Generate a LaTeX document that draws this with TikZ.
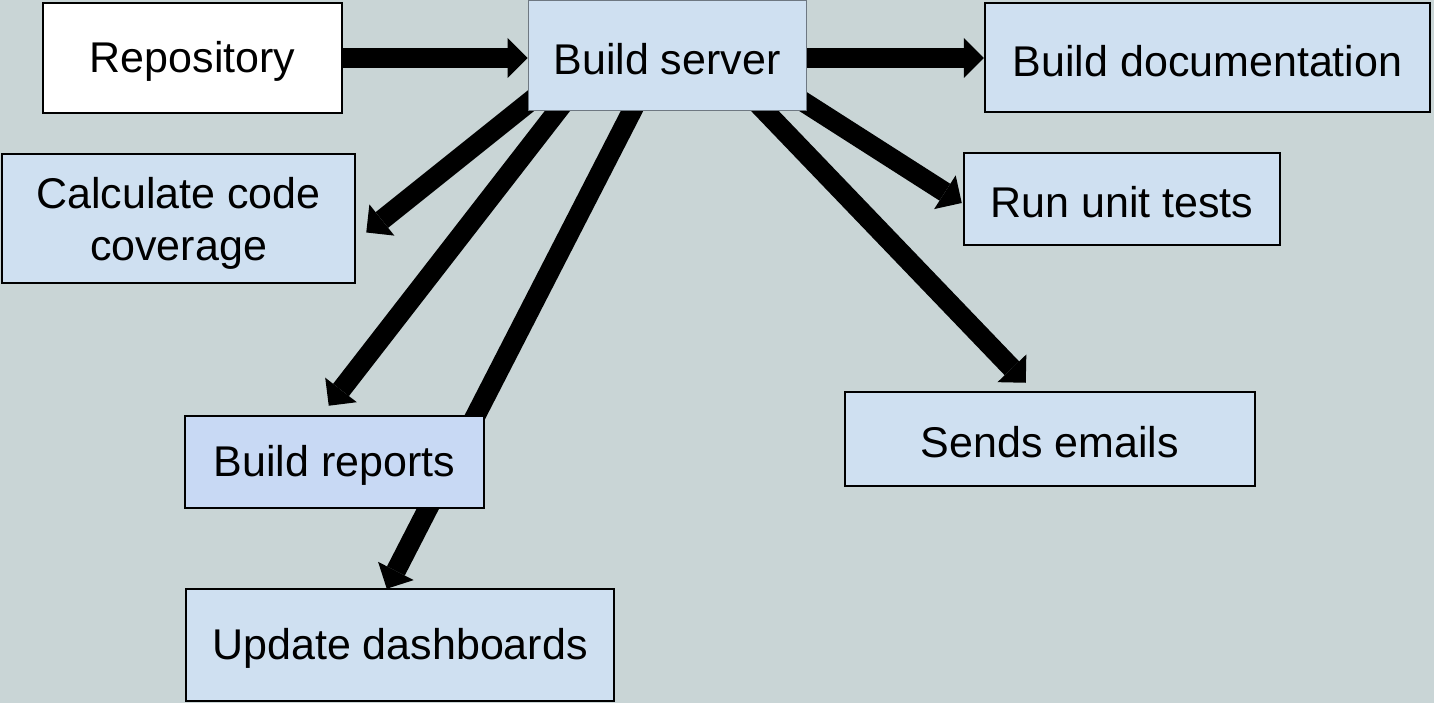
\documentclass[tikz,border=0pt]{standalone}
\usepackage{fontspec}
\setmainfont{Liberation Sans}
\usetikzlibrary{arrows.meta,calc}
\pgfdeclarelayer{bg}
\pgfdeclarelayer{arrowlayer}
\pgfsetlayers{bg,arrowlayer,main}
\definecolor{pagebg}{RGB}{201,213,214}
\definecolor{boxblue}{RGB}{207,224,241}
\definecolor{repblue}{RGB}{200,217,244}
\definecolor{bsborder}{RGB}{110,120,130}
\tikzset{
  box/.style={draw=black, line width=2.5pt, fill=boxblue, inner sep=0pt,
    align=center, font=\fontsize{43}{52}\selectfont,
    execute at begin node={\rule{0pt}{38pt}}},
  fat/.style={line width=20pt, line cap=butt,
    -{Triangle[width=40pt,length=20pt,line width=0pt]}},
}
\begin{document}
\begin{tikzpicture}[x=1pt,y=-1pt]
\begin{pgfonlayer}{bg}
\fill[pagebg] (0,0) rectangle (1434,703);
\end{pgfonlayer}
\useasboundingbox (0,0) rectangle (1434,703);

\node[box, fill=white, minimum width=299pt, minimum height=110pt] (repo) at (192.5,58) {Repository};
\node[box, draw=bsborder, line width=1pt, minimum width=278pt, minimum height=110pt] (bs) at (667,56) {Build server};
\node[box, minimum width=445pt, minimum height=109pt] (doc) at (1207.5,57.5) {Build documentation};
\node[box, minimum width=353pt, minimum height=129pt] (cov) at (178.5,218.5) {\rule{0pt}{40pt}Calculate code\\coverage};
\node[box, minimum width=316pt, minimum height=92pt] (unit) at (1122,199) {Run unit tests};
\node[box, fill=repblue, minimum width=299pt, minimum height=92pt] (rep) at (334.5,462) {Build reports};
\node[box, minimum width=410pt, minimum height=94pt] (mail) at (1050,439) {Sends emails};
\node[box, minimum width=428pt, minimum height=112pt] (dash) at (400,645) {Update dashboards};

\begin{pgfonlayer}{arrowlayer}
\draw[fat] (repo.east) -- (repo.east -| bs.west);
\draw[fat] ($(bs.east)+(-10,2)$) -- ($(bs.east -| doc.west)+(0,2)$);
\draw[fat] ($(bs.south west)+(40,-40)$) -- ($(cov.east)+(10,14)$);
\draw[fat] ($(bs.south west)+(45,-20)$) -- ($(rep.north west)+(145,-9)$);
\draw[fat] ($(bs.south)+(-25,-20)$) -- ($(dash.north west)+(202,1)$);
\draw[fat] ($(bs.east)+(-20,35)$) -- ($(unit.west)+(-1,4)$);
\draw[fat] ($(bs.south)+(60,-40)$) -- ($(mail.north west)+(182,-8)$);
\end{pgfonlayer}
\end{tikzpicture}
\end{document}
